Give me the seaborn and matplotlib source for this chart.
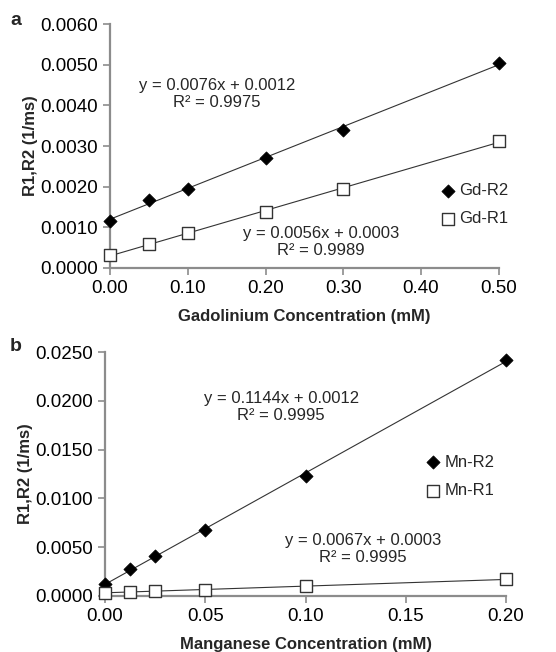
import numpy as np
import pandas as pd
import seaborn as sns
import matplotlib
matplotlib.use("Agg")
import matplotlib.pyplot as plt
from matplotlib.ticker import FormatStrFormatter

# panel a - gadolinium
gd_conc = [0.0, 0.05, 0.10, 0.20, 0.30, 0.50]
gd_r2 = [0.00116, 0.00168, 0.00195, 0.00271, 0.00339, 0.00505]
gd_r1 = [0.00033, 0.00058, 0.00085, 0.00138, 0.00195, 0.00312]

# panel b - manganese
mn_conc = [0.0, 0.0125, 0.025, 0.05, 0.10, 0.20]
mn_r2 = [0.0012, 0.0028, 0.0041, 0.0068, 0.0123, 0.0242]
mn_r1 = [0.00035, 0.00040, 0.00048, 0.00065, 0.00100, 0.00170]

gd_eq = ["y = 0.0076x + 0.0012\nR\u00b2 = 0.9975", "y = 0.0056x + 0.0003\nR\u00b2 = 0.9989"]
mn_eq = ["y = 0.1144x + 0.0012\nR\u00b2 = 0.9995", "y = 0.0067x + 0.0003\nR\u00b2 = 0.9995"]

sns.set_style("ticks")
plt.rcParams['font.family'] = ['Liberation Sans', 'DejaVu Sans']
plt.rcParams['font.size'] = 12

fig = plt.figure(figsize=(5.56, 6.52), dpi=100)
ax1 = fig.add_axes([0.198, 0.589, 0.699, 0.374])
ax2 = fig.add_axes([0.189, 0.086, 0.721, 0.374])

gray = "#8c8c8c"


def draw_panel(ax, x, r2, r1, names, eqs, eq_pos, xlim, ylim, xstep, ystep, xlabel, leg_anchor):
    df = pd.DataFrame({"x": x, "r2": r2, "r1": r1})
    # linear trendlines
    for col in ["r2", "r1"]:
        sns.regplot(data=df, x="x", y=col, ax=ax, scatter=False, ci=None,
                    truncate=True, line_kws=dict(color="#333333", lw=0.8))
    sns.scatterplot(data=df, x="x", y="r2", ax=ax, marker="D", s=45,
                    color="black", edgecolor="black", label=names[0], zorder=3,
                    clip_on=False)
    sns.scatterplot(data=df, x="x", y="r1", ax=ax, marker="s", s=75,
                    facecolor="white", edgecolor="#333333", linewidth=1.0,
                    label=names[1], zorder=3, clip_on=False)
    ax.set_xlim(*xlim)
    ax.set_ylim(*ylim)
    ax.set_xticks(np.arange(xlim[0], xlim[1] + xstep / 2, xstep))
    ax.set_yticks(np.arange(ylim[0], ylim[1] + ystep / 2, ystep))
    ax.xaxis.set_major_formatter(FormatStrFormatter("%.2f"))
    ax.yaxis.set_major_formatter(FormatStrFormatter("%.4f"))
    ax.set_xlabel(xlabel, fontweight="bold", fontsize=12, labelpad=9)
    ax.set_ylabel("R1,R2 (1/ms)", fontweight="bold", fontsize=12, labelpad=2)
    for s in ["top", "right"]:
        ax.spines[s].set_visible(False)
    for s in ["left", "bottom"]:
        ax.spines[s].set_color(gray)
        ax.spines[s].set_linewidth(1.6)
    ax.tick_params(color=gray, width=1.2, length=5, labelsize=13.5, labelcolor="black")
    for txt, (tx, ty) in zip(eqs, eq_pos):
        ax.text(tx, ty, txt, transform=ax.transAxes, ha="center", va="center",
                multialignment="center", fontsize=12)
    ax.legend(loc="center left", bbox_to_anchor=leg_anchor, frameon=False,
              handlelength=1.0, handletextpad=0.2, borderaxespad=0,
              labelspacing=0.8, fontsize=12)


draw_panel(ax1, gd_conc, gd_r2, gd_r1, ["Gd-R2", "Gd-R1"], gd_eq,
           [(0.275, 0.713), (0.542, 0.106)], (0, 0.5), (0, 0.006), 0.1, 0.001,
           "Gadolinium Concentration (mM)", (0.83, 0.26))
draw_panel(ax2, mn_conc, mn_r2, mn_r1, ["Mn-R2", "Mn-R1"], mn_eq,
           [(0.439, 0.775), (0.643, 0.193)], (0, 0.2), (0, 0.025), 0.05, 0.005,
           "Manganese Concentration (mM)", (0.78, 0.49))

fig.text(0.018, 0.968, "a", fontweight="bold", fontsize=14, va="center")
fig.text(0.018, 0.468, "b", fontweight="bold", fontsize=14, va="center")

fig.savefig("out.png", dpi=100)
